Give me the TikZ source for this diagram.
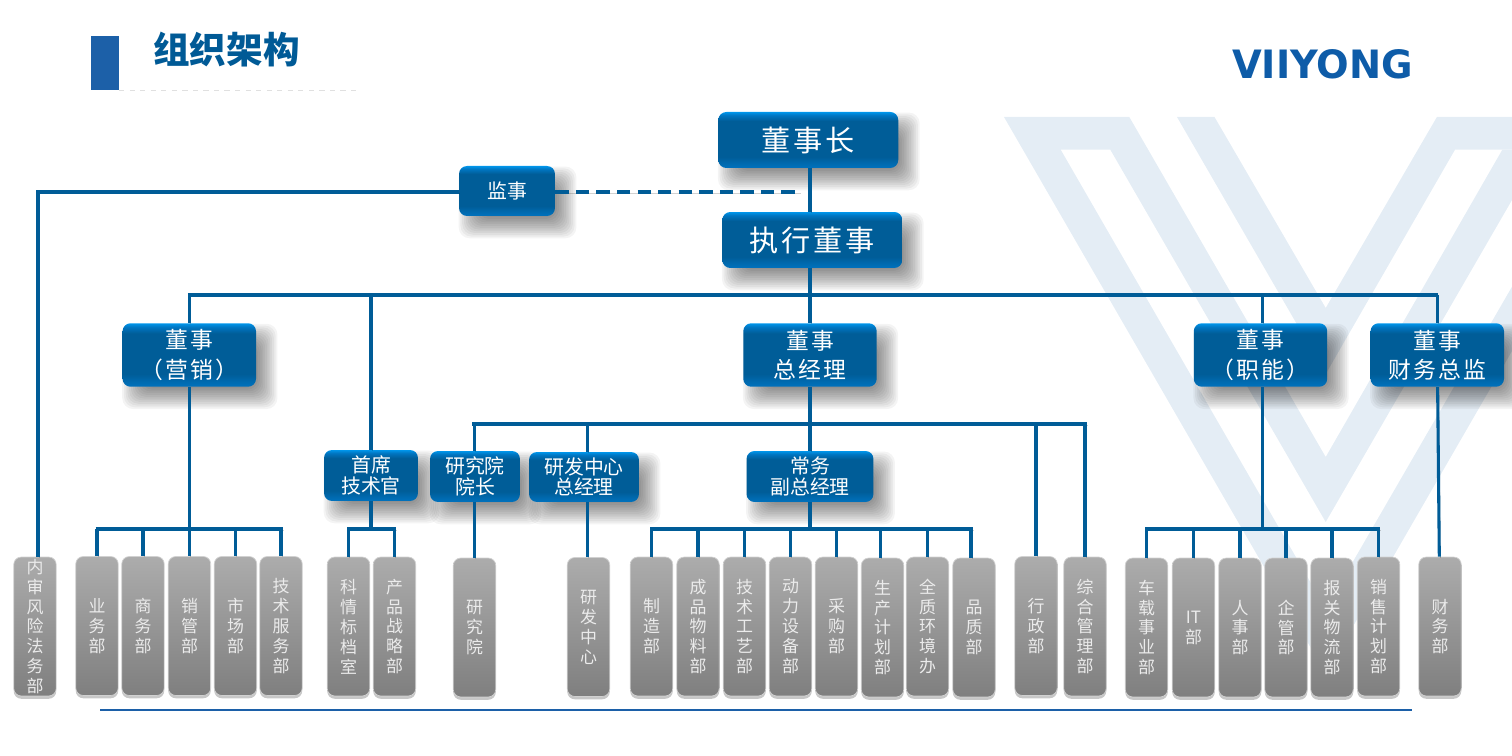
\documentclass[tikz,border=0pt]{standalone}
\usepackage{fontspec}
\usepackage{graphicx}
\setmainfont{Noto Sans CJK SC}
\newfontfamily\widefont[LetterSpace=10]{Noto Sans CJK SC}
\newfontfamily\logofont{DejaVu Sans}
\usetikzlibrary{shadows}
\pgfdeclarelayer{back}
\pgfsetlayers{back,main}
\definecolor{linkblue}{HTML}{005C97}
\definecolor{titleblue}{HTML}{005A96}
\definecolor{barblue}{HTML}{1C60A8}
\definecolor{logoblue}{HTML}{0E5CA8}
\definecolor{markblue}{HTML}{E4EDF5}
\definecolor{btnlow}{HTML}{0072BE}
\definecolor{btnlowb}{HTML}{0068AC}
\definecolor{btnmid}{HTML}{005D98}
\definecolor{btnhigh}{HTML}{0076C2}
\definecolor{btntop}{HTML}{0095EA}
\definecolor{grayhigh}{HTML}{ACACAC}
\definecolor{graylow}{HTML}{7F7F7F}
\pgfdeclareverticalshading{btnshade}{100bp}{color(0bp)=(btnlow); color(25bp)=(btnlow); color(30bp)=(btnlowb); color(35bp)=(btnmid); color(67bp)=(btnmid); color(72bp)=(btnhigh); color(75bp)=(btntop); color(100bp)=(btntop)}
\tikzset{
  bluebox/.style={rectangle, rounded corners=.16cm, shading=btnshade, text=white, inner sep=0pt, align=center},
  bigbox/.style={bluebox, font=\fontsize{16.6pt}{20pt}\widefont},
  midbox/.style={bluebox, font=\fontsize{13pt}{16.6pt}\widefont},
  lowbox/.style={bluebox, font=\fontsize{11.3pt}{11.7pt}\selectfont},
  graybox/.style={rectangle, rounded corners=.15cm, top color=grayhigh, bottom color=graylow, draw=black!18, line width=.4pt,
    text=white!92!black, inner sep=0pt, align=center, minimum width=.85cm, minimum height=2.78cm,
    font=\fontsize{9.64pt}{11.34pt}\selectfont,
    general shadow={shadow xshift=0pt, shadow yshift=-1.6pt, fill=black, opacity=.22}},
  conn/.style={draw=linkblue, line width=1.75pt, preaction={draw=black, opacity=.18, transform canvas={xshift=.7pt, yshift=-.7pt}}}
}
\begin{document}
\begin{tikzpicture}[x=.02cm,y=-.02cm]
\useasboundingbox (0,0) rectangle (1512,756);
\fill[barblue] (91,36) rectangle (119,90);
\draw[black!12, dashed, line width=.4pt] (119,90.5) -- (356,90.5);
\draw[barblue, line width=1.7pt] (100,710) -- (1412,710);
\node[text=titleblue, inner sep=0pt, font=\fontsize{20.8pt}{24pt}\bfseries] (title) at (226.5,50){组织架构};
\node[text=logoblue, inner sep=0pt] (logo) at (1322.5,64.5){\resizebox{3.62cm}{.58cm}{\logofont\bfseries VIIYONG}};
\node[bigbox, minimum width=3.6cm, minimum height=1.12cm] (chair) at (808.3,140){董事长};
\node[bigbox, minimum width=3.6cm, minimum height=1.12cm] (exec) at (812.3,240){执行董事};
\node[lowbox, minimum width=1.92cm, minimum height=1cm, font=\fontsize{11.3pt}{13pt}\selectfont] (sup) at (507,191){监事};
\node[midbox, minimum width=2.67cm, minimum height=1.27cm] (dirm) at (189.3,355){董事\\（营销）};
\node[midbox, minimum width=2.67cm, minimum height=1.27cm] (gm) at (810,355){董事\\总经理};
\node[midbox, minimum width=2.67cm, minimum height=1.27cm] (dirhr) at (1260.5,355){董事\\（职能）};
\node[midbox, minimum width=2.67cm, minimum height=1.27cm] (dirfin) at (1437.3,355){董事\\财务总监};
\node[lowbox, minimum width=1.88cm, minimum height=1.02cm] (cto) at (371,475.5){首席\\技术官};
\node[lowbox, minimum width=1.8cm, minimum height=1.02cm] (dean) at (475,476.5){研究院\\院长};
\node[lowbox, minimum width=2.2cm, minimum height=1cm] (rdm) at (584,477){研发中心\\总经理};
\node[lowbox, minimum width=2.54cm, minimum height=1.02cm] (vp) at (810,476.5){常务\\副总经理};
\begin{pgfonlayer}{back}
\fill[markblue] (1177,117) -- (1214.5,117) -- (1325.7,308) -- (1436.9,117) -- (1512,117) -- (1512,149.7) -- (1455,149.7) -- (1325.7,374) -- cycle;
\fill[markblue] (1004,117) -- (1129.3,117) -- (1325.7,457) -- (1502.3,149.7) -- (1512,149.7) -- (1512,200) -- (1325.7,522) -- (1110.3,149.7) -- (1060.7,149.7) -- (1325.7,608.7) -- (1512,286.7) -- (1512,351) -- (1325.7,673.6) -- cycle;
\foreach \n in {chair,exec,sup,dirm,gm,dirhr,dirfin,cto,dean,rdm,vp}{
  \foreach \s in {-6pt,-5pt,-4pt,-3pt,-2pt,-1pt,0pt,1pt,2pt,3pt,4pt,5pt,6pt}{
    \fill[black, opacity=.042, rounded corners=.22cm] ([xshift=6pt-\s, yshift=-6.5pt-\s]\n.south west) rectangle ([xshift=6pt+\s, yshift=-6.5pt+\s]\n.north east);
  }
}
\end{pgfonlayer}
\node[graybox] (did0) at (35,626.5){内\\审\\风\\险\\法\\务\\部};
\node[graybox] (did1) at (97,626){业\\务\\部};
\node[graybox] (did2) at (143,626){商\\务\\部};
\node[graybox] (did3) at (189.5,626){销\\管\\部};
\node[graybox] (did4) at (235.5,626){市\\场\\部};
\node[graybox] (did5) at (281,626){技\\术\\服\\务\\部};
\node[graybox] (did6) at (348.5,626.5){科\\情\\标\\档\\室};
\node[graybox] (did7) at (394.5,626.5){产\\品\\战\\略\\部};
\node[graybox] (did8) at (474.5,627.5){研\\究\\院};
\node[graybox] (did9) at (588.5,627){研\\发\\中\\心};
\node[graybox] (did10) at (651.5,626.5){制\\造\\部};
\node[graybox] (did11) at (698,626.5){成\\品\\物\\料\\部};
\node[graybox] (did12) at (744.5,626.5){技\\术\\工\\艺\\部};
\node[graybox] (did13) at (790.5,626.5){动\\力\\设\\备\\部};
\node[graybox] (did14) at (836.5,626.5){采\\购\\部};
\node[graybox] (did15) at (882.5,627.5){生\\产\\计\\划\\部};
\node[graybox] (did16) at (927.5,626.5){全\\质\\环\\境\\办};
\node[graybox] (did17) at (974,627.5){品\\质\\部};
\node[graybox] (did18) at (1036,626){行\\政\\部};
\node[graybox] (did19) at (1085,626.5){综\\合\\管\\理\\部};
\node[graybox] (did20) at (1146.5,627.5){车\\载\\事\\业\\部};
\node[graybox] (did21) at (1193.5,627.5){IT\\部};
\node[graybox] (did22) at (1240,627.5){人\\事\\部};
\node[graybox] (did23) at (1286,627.5){企\\管\\部};
\node[graybox] (did24) at (1332,627.5){报\\关\\物\\流\\部};
\node[graybox] (did25) at (1378.5,626.5){销\\售\\计\\划\\部};
\node[graybox] (did26) at (1440,626.5){财\\务\\部};
\coordinate (spine) at (810,295);
\coordinate (bus0l) at (187.8,295);
\coordinate (bus0r) at (1438.2,295);
\coordinate (hrx) at (1262.5,295);
\coordinate (busrl) at (472,424);
\coordinate (busrr) at (1086.5,424);
\coordinate (rdx) at (587.5,424);
\coordinate (bus1l) at (95.5,529);
\coordinate (bus1r) at (282.5,529);
\coordinate (bus2l) at (650,529);
\coordinate (bus2r) at (972.5,529);
\coordinate (bus2x) at (971,529);
\coordinate (bus2y) at (880.5,529);
\coordinate (bus3l) at (347,529);
\coordinate (bus3r) at (396,529);
\coordinate (bus4l) at (1145,529);
\coordinate (bus4r) at (1380,529);
\coordinate (supleft) at (38,192);
\coordinate (supdash) at (800,192);
\draw[conn](chair.south -| spine) -- (exec.north -| spine);
\draw[conn](exec.south -| spine) -- (gm.north -| spine);
\draw[conn](bus0l) -- (bus0r);
\draw[conn](dirm |- bus0l) -- (dirm);
\draw[conn](cto |- bus0l) -- (cto);
\draw[conn](hrx) -- (dirhr.north -| hrx);
\draw[conn](dirfin |- bus0l) -- (dirfin);
\draw[conn](sup.west |- supleft) -- (supleft) -- (did0.north -| supleft);
\draw[conn, dash pattern=on 7.6pt off 4.1pt](sup.east |- supdash) -- (supdash);
\draw[conn](dirm) -- (dirm |- bus1l);
\draw[conn](bus1l) -- (bus1r);
\draw[conn](did1 |- bus1l) -- (did1);
\draw[conn](did2 |- bus1l) -- (did2);
\draw[conn](did3 |- bus1l) -- (did3);
\draw[conn](did4 |- bus1l) -- (did4);
\draw[conn](did5 |- bus1l) -- (did5);
\draw[conn](cto) -- (cto |- bus3l);
\draw[conn](bus3l) -- (bus3r);
\draw[conn](did6 |- bus3l) -- (did6);
\draw[conn](did7 |- bus3l) -- (did7);
\draw[conn](gm) -- (vp);
\draw[conn](busrl) -- (busrr);
\draw[conn](did8 |- busrl) -- (dean.north -| did8);
\draw[conn](dean.south -| did8) -- (did8);
\draw[conn](rdx) -- (rdm.north -| rdx);
\draw[conn](rdm.south -| rdx) -- (did9.north -| rdx);
\draw[conn](did18 |- busrl) -- (did18);
\draw[conn](did19 |- busrl) -- (did19);
\draw[conn](vp) -- (vp |- bus2l);
\draw[conn](bus2l) -- (bus2r);
\draw[conn](did10 |- bus2l) -- (did10);
\draw[conn](did11 |- bus2l) -- (did11);
\draw[conn](did12 |- bus2l) -- (did12);
\draw[conn](did13 |- bus2l) -- (did13);
\draw[conn](did14 |- bus2l) -- (did14);
\draw[conn](bus2y) -- (did15.north -| bus2y);
\draw[conn](did16 |- bus2l) -- (did16);
\draw[conn](bus2x) -- (did17.north -| bus2x);
\draw[conn](dirhr.south -| hrx) -- (hrx |- bus4l);
\draw[conn](bus4l) -- (bus4r);
\draw[conn](did20 |- bus4l) -- (did20);
\draw[conn](did21 |- bus4l) -- (did21);
\draw[conn](did22 |- bus4l) -- (did22);
\draw[conn](did23 |- bus4l) -- (did23);
\draw[conn](did24 |- bus4l) -- (did24);
\draw[conn](did25 |- bus4l) -- (did25);
\draw[conn](dirfin) -- (did26);
\end{tikzpicture}
\end{document}
